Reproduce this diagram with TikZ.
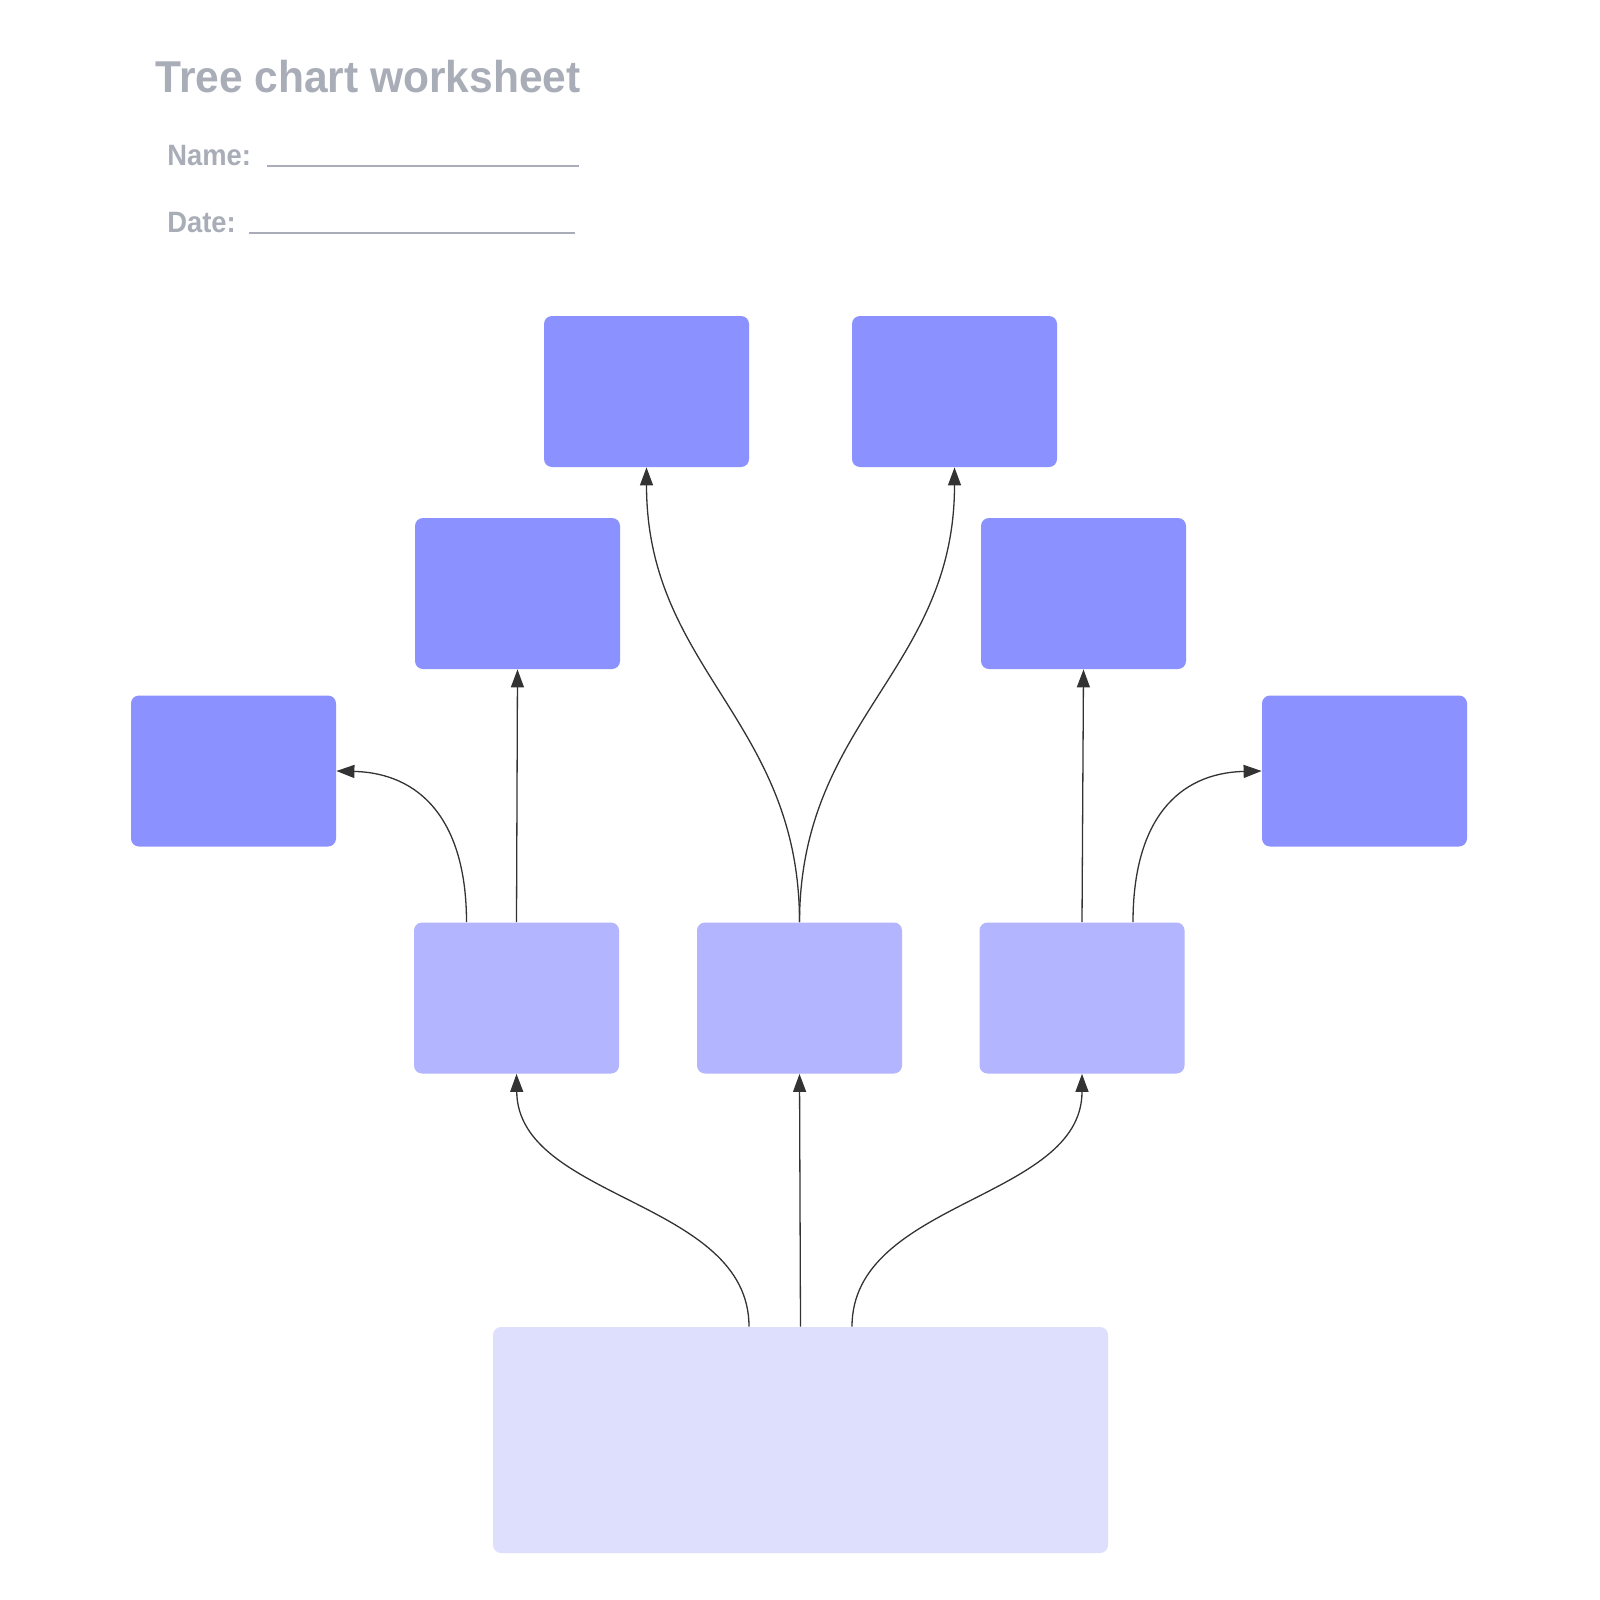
\documentclass[tikz,border=0pt]{standalone}
\usepackage{fontspec}
\usepackage{graphicx}
\setmainfont{Liberation Sans}
\usetikzlibrary{arrows.meta,calc}
\definecolor{dark}{HTML}{8B92FF}
\definecolor{mid}{HTML}{B3B5FE}
\definecolor{light}{HTML}{DEDEFD}
\definecolor{textgray}{HTML}{A8ADB7}
\definecolor{conncol}{HTML}{333333}
\tikzset{
  box/.style={rectangle, rounded corners=4pt, inner sep=0pt, draw=none,
    minimum width=102.5pt, minimum height=75.5pt},
  darkbox/.style={box, fill=dark},
  midbox/.style={box, fill=mid},
  rootbox/.style={box, fill=light, minimum width=307.5pt, minimum height=113pt},
  conn/.style={draw=conncol, line width=0.65pt, -{Triangle[length=9pt,width=6.5pt]}},
  titletext/.style={anchor=base west, inner sep=0pt, text=textgray, font=\bfseries\fontsize{22.3}{26}\selectfont},
  labeltext/.style={anchor=base west, inner sep=0pt, text=textgray, font=\bfseries\fontsize{14.7}{17}\selectfont},
  rule/.style={draw=textgray, line width=1.35pt}
}
\begin{document}
\begin{tikzpicture}[x=0.5pt,y=-0.5pt]
\useasboundingbox[fill=white] (0,0) rectangle (1600,1600);

% header
\node[titletext] (title) at (155,93) {\scalebox{0.953}[1]{Tree chart worksheet}};
\node[labeltext] (namelbl) at (167,165) {\scalebox{0.93}[1]{Name:}};
\node[labeltext] (datelbl) at (167,232) {\scalebox{0.93}[1]{Date:}};
\coordinate (n1) at (267,166);
\coordinate (n2) at (579,166);
\coordinate (d1) at (249,233);
\coordinate (d2) at (575,233);
\draw[rule] (n1) -- (n2);
\draw[rule] (d1) -- (d2);

% boxes
\node[darkbox] (A1) at (646.5,391.5) {};
\node[darkbox] (A2) at (954.5,391.5) {};
\node[darkbox] (B1) at (517.5,593.5) {};
\node[darkbox] (B2) at (1083.5,593.5) {};
\node[darkbox] (C1) at (233.5,771) {};
\node[darkbox] (C2) at (1364.5,771) {};
\node[midbox] (M1) at (516.5,998) {};
\node[midbox] (M2) at (799.5,998) {};
\node[midbox] (M3) at (1082,998) {};
\node[rootbox] (root) at (800.5,1440) {};

% connectors root -> middle
\draw[conn] ($(root.north)+(-51.5,0)$) .. controls (749,1200) and (518,1200) .. (M1.south);
\draw[conn] (root.north) -- (M2.south);
\draw[conn] ($(root.north)+(51.5,0)$) .. controls (852,1200) and (1082,1200) .. (M3.south);

% middle -> upper
\draw[conn] ($(M1.north)+(-50,0)$) .. controls (466.5,820) and (420,773) .. (C1.east);
\draw[conn] (M1.north) -- (B1.south);
\draw[conn] (M2.north) .. controls (799.5,720) and (646.5,670) .. (A1.south);
\draw[conn] (M2.north) .. controls (800,720) and (954.5,670) .. (A2.south);
\draw[conn] (M3.north) -- (B2.south);
\draw[conn] ($(M3.north)+(51,0)$) .. controls (1133,820) and (1178,773) .. (C2.west);
\end{tikzpicture}
\end{document}
